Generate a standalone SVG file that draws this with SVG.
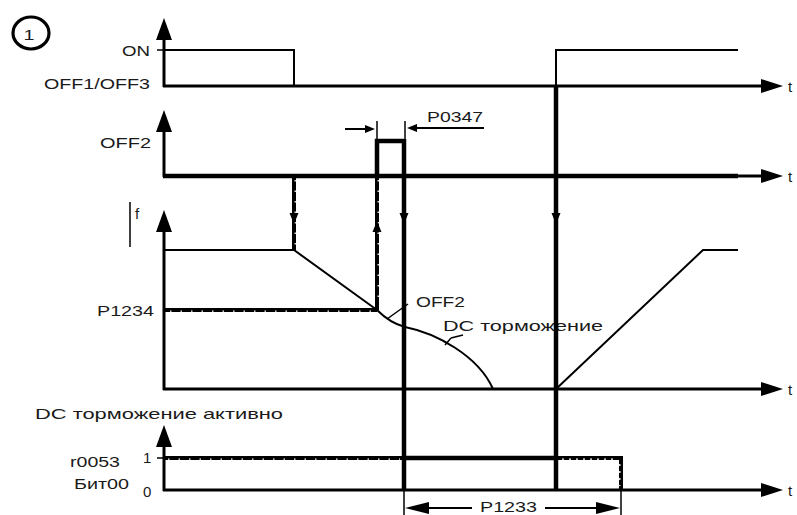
<svg xmlns="http://www.w3.org/2000/svg" width="797" height="515" viewBox="0 0 797 515">
<style>
text{font-family:"Liberation Sans",Arial,sans-serif;font-size:15px;fill:#1a1a1a}
.ax{stroke:#000;stroke-width:3;fill:none}
.sig{stroke:#000;stroke-width:2;fill:none}
.thick{stroke:#000;stroke-width:4.5;fill:none}
.dot{stroke:#000;stroke-width:4;fill:none}
.speck{stroke:#fff;stroke-width:1.3;fill:none;stroke-dasharray:1.5 9}
.thin{stroke:#000;stroke-width:1.5;fill:none}
.ah{fill:#000}
</style>
<defs>
<path id="up" d="M0,0 L-8,22 L8,22 Z"/>
<path id="right" d="M0,0 L-22,-7 L-22,7 Z"/>
<path id="sdown" d="M0,0 L-4.5,-11 L4.5,-11 Z"/>
<path id="sup" d="M0,0 L-4.5,11 L4.5,11 Z"/>
</defs>

<g id="marker1">
<ellipse cx="31" cy="33" rx="18" ry="16" fill="none" stroke="#000" stroke-width="3.2"/>
<text x="29" y="40" text-anchor="middle" font-size="21" textLength="11" lengthAdjust="spacingAndGlyphs">1</text>
</g>

<g id="plot-on">
<line class="ax" x1="164" y1="87" x2="164" y2="36"/>
<use href="#up" x="164" y="18" class="ah"/>
<line class="ax" x1="163" y1="86" x2="762" y2="86"/>
<use href="#right" x="783" y="86" class="ah"/>
<line class="thin" x1="157" y1="50" x2="164" y2="50"/>
<polyline class="sig" points="164,50 294,50 294,86"/>
<polyline class="sig" points="556,86 556,50 738,50"/>
<text x="122" y="56" textLength="28" lengthAdjust="spacingAndGlyphs">ON</text>
<text x="44" y="89" textLength="106" lengthAdjust="spacingAndGlyphs">OFF1/OFF3</text>
<text x="788" y="92">t</text>
</g>

<g id="plot-off2">
<line class="ax" x1="164" y1="177" x2="164" y2="128"/>
<use href="#up" x="164" y="110" class="ah"/>
<line class="thick" stroke-width="4" x1="163" y1="176" x2="738" y2="176"/>
<line class="ax" x1="736" y1="176" x2="762" y2="176"/>
<use href="#right" x="783" y="176" class="ah"/>
<polyline class="thick" stroke-width="4" points="377,176 377,141 404,141"/>
<text x="100" y="148" textLength="51" lengthAdjust="spacingAndGlyphs">OFF2</text>
<text x="788" y="182">t</text>
</g>

<g id="dim-p0347">
<line class="thin" x1="377" y1="121" x2="377" y2="141"/>
<line class="thin" x1="405" y1="121" x2="405" y2="141"/>
<line class="sig" x1="345" y1="129" x2="368" y2="129"/>
<path class="ah" d="M375,129 L365,125 L365,133 Z"/>
<line class="sig" x1="414" y1="128" x2="484" y2="128"/>
<path class="ah" d="M407,128 L417,124 L417,132 Z"/>
<text x="427" y="122" textLength="56" lengthAdjust="spacingAndGlyphs">P0347</text>
</g>

<g id="plot-f">
<line class="ax" x1="164" y1="390" x2="164" y2="228"/>
<use href="#up" x="164" y="210" class="ah"/>
<line class="ax" x1="163" y1="389" x2="762" y2="389"/>
<use href="#right" x="783" y="389" class="ah"/>
<line class="thin" x1="130" y1="202" x2="130" y2="247"/>
<text x="135" y="219" font-size="14">f</text>
<polyline class="sig" stroke-width="2.5" points="164,250 294,250 377,310"/>
<line class="dot" x1="164" y1="310" x2="377" y2="310"/>
<line class="speck" x1="170" y1="311.2" x2="375" y2="311.2"/>
<path class="sig" d="M377,310 Q390,323 405,327 C435,333 478,355 493,389"/>
<polyline class="sig" stroke-width="2.5" points="556,389 703,250 738,250"/>
<line class="thin" x1="387" y1="319" x2="408" y2="304"/>
<line class="thin" x1="445" y1="345" x2="451" y2="338"/>
<line class="thin" x1="451" y1="338" x2="463" y2="335"/>
<text x="97" y="316" textLength="57" lengthAdjust="spacingAndGlyphs">P1234</text>
<text x="416" y="307" textLength="49" lengthAdjust="spacingAndGlyphs">OFF2</text>
<text x="443" y="331" textLength="160" lengthAdjust="spacingAndGlyphs">DC торможение</text>
<text x="788" y="395">t</text>
</g>

<g id="plot-bit">
<line class="ax" x1="164" y1="491" x2="164" y2="443"/>
<use href="#up" x="164" y="425" class="ah"/>
<line class="ax" x1="163" y1="490" x2="762" y2="490"/>
<use href="#right" x="783" y="490" class="ah"/>
<line class="thin" x1="157" y1="458" x2="164" y2="458"/>
<line class="dot" x1="164" y1="458" x2="404" y2="458"/>
<line class="speck" x1="168" y1="459.2" x2="400" y2="459.2"/>
<line class="thick" stroke-width="4" x1="404" y1="458" x2="556" y2="458"/>
<polyline class="dot" points="556,458 621,458 621,490"/>
<line class="speck" style="stroke-dasharray:2 5" x1="562" y1="459.2" x2="617" y2="459.2"/>
<line class="speck" style="stroke-dasharray:2 5" x1="619.8" y1="464" x2="619.8" y2="486"/>
<text x="35" y="419" textLength="248" lengthAdjust="spacingAndGlyphs">DC торможение активно</text>
<text x="70" y="467" textLength="50" lengthAdjust="spacingAndGlyphs">r0053</text>
<text x="74" y="489" textLength="55" lengthAdjust="spacingAndGlyphs">Бит00</text>
<text x="143" y="463">1</text>
<text x="143" y="497">0</text>
<text x="788" y="496">t</text>
</g>

<g id="connectors">
<line class="dot" x1="294" y1="176" x2="294" y2="250"/>
<line class="speck" x1="295.2" y1="180" x2="295.2" y2="246"/>
<use href="#sdown" x="294" y="224" class="ah"/>
<line class="dot" x1="377" y1="176" x2="377" y2="310"/>
<line class="speck" x1="378.2" y1="180" x2="378.2" y2="306"/>
<use href="#sup" x="377" y="221" class="ah"/>
<line class="thick" x1="404" y1="139" x2="404" y2="490"/>
<use href="#sdown" x="404" y="224" class="ah"/>
<line class="thick" x1="556" y1="86" x2="556" y2="490"/>
<use href="#sdown" x="556" y="224" class="ah"/>
</g>

<g id="dim-p1233">
<line class="thin" x1="404" y1="490" x2="404" y2="515"/>
<line class="thin" x1="621" y1="490" x2="621" y2="515"/>
<path class="ah" d="M405,508 L429,502 L429,514 Z"/>
<path class="ah" d="M620,508 L596,502 L596,514 Z"/>
<line class="sig" x1="428" y1="508" x2="472" y2="508"/>
<line class="sig" x1="545" y1="508" x2="597" y2="508"/>
<text x="480" y="512" font-size="14" textLength="57" lengthAdjust="spacingAndGlyphs">P1233</text>
</g>
</svg>
